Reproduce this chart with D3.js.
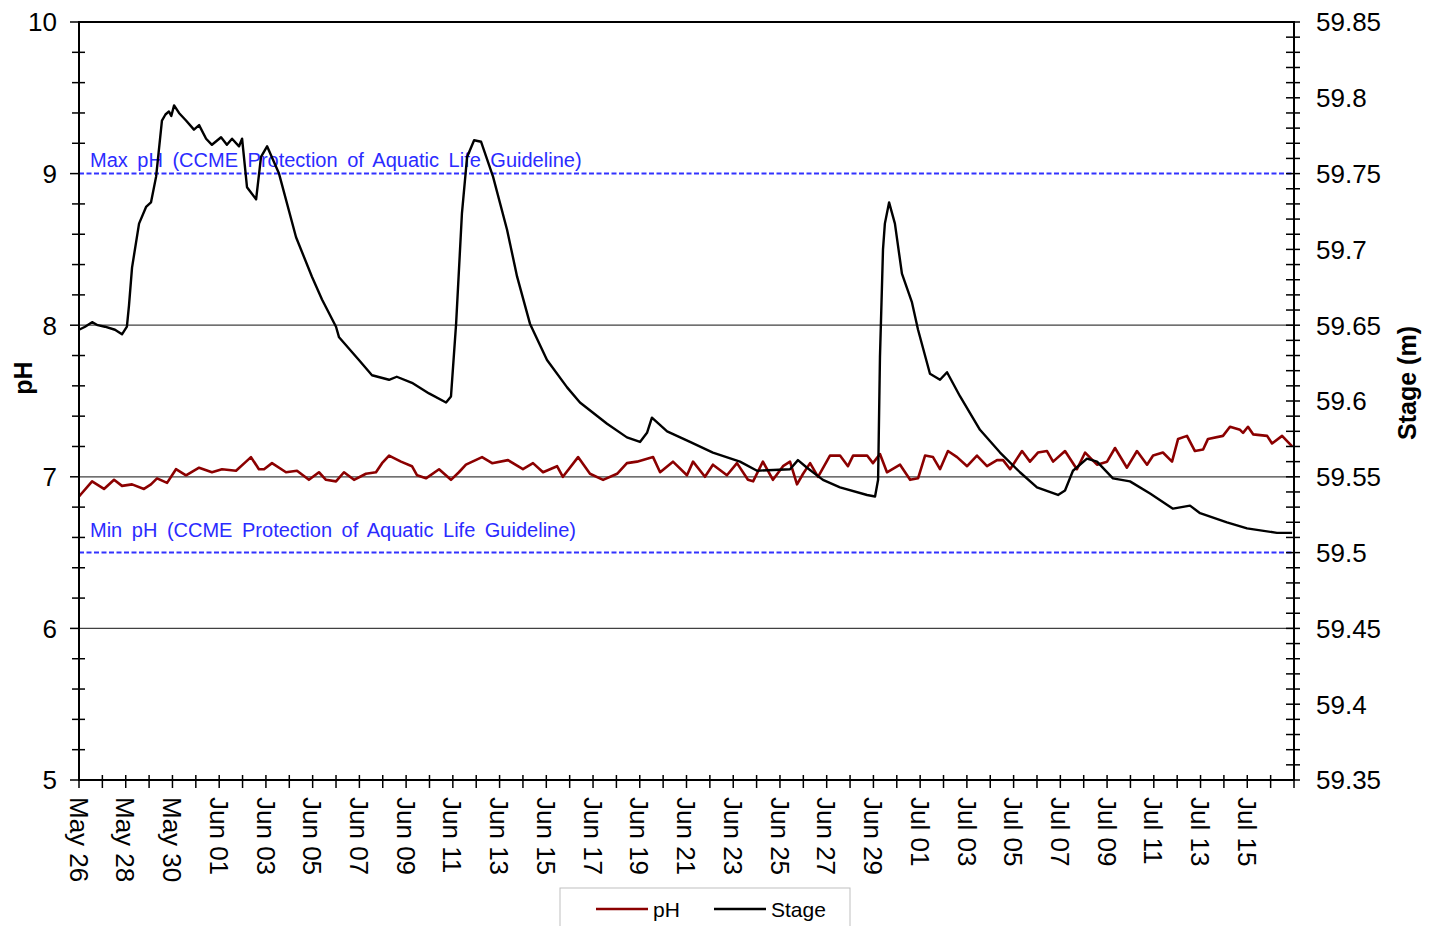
<!DOCTYPE html>
<html>
<head>
<meta charset="utf-8">
<script src="https://cdn.jsdelivr.net/npm/d3@7"></script>
<style>
  body { margin: 0; background: #fff; }
  svg { display: block; font-family: Arial, "Liberation Sans", sans-serif; }
</style>
</head>
<body>
<svg id="chart" width="1432" height="926"></svg>
<script>
// days since May 26 00:00 and readings
const START = Date.UTC(2015, 4, 26);

const stageDays = [0, 0.26, 0.56, 0.8, 1.11, 1.54, 1.84, 2.05, 2.14, 2.27, 2.57, 2.87, 3.08, 3.3, 3.55, 3.7,
  3.85, 3.95, 4.07, 4.28, 4.58, 4.92, 5.14, 5.44, 5.69, 6.08, 6.33, 6.55, 6.85, 6.98, 7.19, 7.58, 7.79,
  8.05, 8.56, 9.29, 9.97, 10.4, 11.0, 11.13, 11.98, 12.54, 13.27, 13.6, 14.25, 14.98, 15.71, 15.92,
  16.14, 16.39, 16.61, 16.91, 17.21, 17.72, 18.32, 18.75, 19.3, 20.03, 20.89, 21.44, 22.6, 23.45,
  24.01, 24.31, 24.52, 25.17, 26.15, 27.13, 28.29, 29.02, 30.43, 30.77, 31.16, 31.84, 32.57, 33.73,
  34.07, 34.2, 34.28, 34.41, 34.49, 34.67, 34.92, 35.22, 35.65, 35.91, 36.42, 36.85, 37.15, 37.71,
  38.56, 39.42, 40.27, 41.0, 41.9, 42.2, 42.54, 43.14, 43.57, 44.25, 44.98, 45.84, 46.82, 47.55,
  47.98, 49.13, 49.99, 51.27, 51.92];
const stageVals = [59.647, 59.649, 59.652, 59.650, 59.649, 59.647, 59.644, 59.649, 59.663, 59.688, 59.717,
  59.728, 59.731, 59.748, 59.785, 59.789, 59.791, 59.788, 59.795, 59.790, 59.785, 59.779, 59.782,
  59.773, 59.769, 59.774, 59.769, 59.773, 59.768, 59.773, 59.741, 59.733, 59.761, 59.768, 59.750,
  59.708, 59.682, 59.667, 59.649, 59.642, 59.627, 59.617, 59.614, 59.616, 59.612, 59.605, 59.599,
  59.603, 59.651, 59.724, 59.761, 59.772, 59.771, 59.748, 59.713, 59.682, 59.651, 59.627, 59.609,
  59.599, 59.585, 59.576, 59.573, 59.579, 59.589, 59.580, 59.573, 59.566, 59.560, 59.554, 59.555,
  59.561, 59.556, 59.548, 59.543, 59.538, 59.537, 59.548, 59.629, 59.700, 59.717, 59.731, 59.717,
  59.684, 59.665, 59.647, 59.618, 59.614, 59.619, 59.603, 59.581, 59.566, 59.553, 59.543, 59.538,
  59.541, 59.554, 59.562, 59.560, 59.549, 59.547, 59.539, 59.529, 59.531, 59.526, 59.520, 59.516,
  59.513, 59.513];

const phDays = [0, 0.56, 1.07, 1.5, 1.84, 2.27, 2.78, 3.08, 3.34, 3.77, 4.15, 4.58, 5.14, 5.69, 6.12, 6.72,
  7.15, 7.36, 7.7, 7.92, 8.26, 8.86, 9.33, 9.84, 10.27, 10.57, 11.0, 11.34, 11.77, 12.28, 12.71,
  12.97, 13.27, 13.78, 14.25, 14.47, 14.85, 15.41, 15.92, 16.26, 16.56, 17.25, 17.68, 18.36, 19.0,
  19.43, 19.86, 20.46, 20.71, 21.36, 21.87, 22.43, 23.03, 23.45, 23.88, 24.57, 24.87, 25.42, 26.02,
  26.28, 26.79, 27.13, 27.73, 28.16, 28.63, 28.85, 29.27, 29.7, 30.13, 30.43, 30.73, 30.99, 31.29,
  31.63, 32.14, 32.57, 32.91, 33.13, 33.73, 33.98, 34.28, 34.58, 35.14, 35.57, 35.91, 36.21, 36.55,
  36.85, 37.19, 37.58, 38.01, 38.43, 38.86, 39.29, 39.55, 39.85, 40.36, 40.7, 41.04, 41.43, 41.69,
  42.2, 42.71, 43.06, 43.57, 44.0, 44.34, 44.85, 45.28, 45.71, 45.97, 46.39, 46.78, 47.04, 47.42,
  47.76, 48.11, 48.32, 48.96, 49.26, 49.69, 49.82, 50.03, 50.25, 50.85, 51.06, 51.49, 51.92];
const phVals = [6.87, 6.97, 6.92, 6.98, 6.94, 6.95, 6.92, 6.95, 6.99, 6.96, 7.05, 7.01, 7.06, 7.03, 7.05,
  7.04, 7.10, 7.13, 7.05, 7.05, 7.09, 7.03, 7.04, 6.98, 7.03, 6.98, 6.97, 7.03, 6.98, 7.02, 7.03,
  7.09, 7.14, 7.10, 7.07, 7.01, 6.99, 7.05, 6.98, 7.03, 7.08, 7.13, 7.09, 7.11, 7.05, 7.09, 7.03,
  7.07, 7.00, 7.13, 7.02, 6.98, 7.02, 7.09, 7.10, 7.13, 7.03, 7.10, 7.01, 7.10, 7.00, 7.08, 7.01,
  7.09, 6.98, 6.97, 7.10, 6.98, 7.07, 7.10, 6.95, 7.02, 7.09, 7.00, 7.14, 7.14, 7.07, 7.14, 7.14,
  7.09, 7.15, 7.03, 7.08, 6.98, 6.99, 7.14, 7.13, 7.05, 7.17, 7.13, 7.07, 7.14, 7.07, 7.11, 7.11,
  7.05, 7.17, 7.10, 7.16, 7.17, 7.10, 7.17, 7.05, 7.16, 7.08, 7.10, 7.19, 7.06, 7.17, 7.08, 7.14,
  7.16, 7.10, 7.25, 7.27, 7.17, 7.18, 7.25, 7.27, 7.33, 7.31, 7.29, 7.33, 7.28, 7.27, 7.22, 7.27, 7.20];

const phTicks = [5, 6, 7, 8, 9, 10];
const stageTicks = [59.35, 59.4, 59.45, 59.5, 59.55, 59.6, 59.65, 59.7, 59.75, 59.8, 59.85];
const phGrid = [6, 7, 8];
const maxPH = 9, minPH = 6.5;
const maxLabel = "Max pH (CCME Protection of Aquatic Life Guideline)";
const minLabel = "Min pH (CCME Protection of Aquatic Life Guideline)";
const NDAYS = 52;

const svg = d3.select("#chart");
const L = 79, R = 1294, T = 22, B = 780;
const toDate = (d) => new Date(START + d * 864e5);

const x = d3.scaleUtc().domain([toDate(0), toDate(NDAYS)]).range([L, R]);
const yPH = d3.scaleLinear().domain([5, 10]).range([B, T]);
const yStage = d3.scaleLinear().domain([59.35, 59.85]).range([B, T]);

// gridlines
svg.append("g")
  .selectAll("line")
  .data(phGrid)
  .join("line")
  .attr("x1", L).attr("x2", R)
  .attr("y1", (d) => yPH(d)).attr("y2", (d) => yPH(d))
  .attr("stroke", "#404040").attr("stroke-width", 1.2);

// guideline lines + labels
[[maxPH, maxLabel, 7], [minPH, minLabel, 16]].forEach(([v, lbl, off]) => {
  svg.append("line")
    .attr("x1", L).attr("x2", R)
    .attr("y1", yPH(v)).attr("y2", yPH(v))
    .attr("stroke", "#3333ff").attr("stroke-width", 2)
    .attr("stroke-dasharray", "5,2.5");
  svg.append("text")
    .attr("x", 90).attr("y", yPH(v) - off)
    .attr("font-size", 20).attr("word-spacing", 4)
    .attr("fill", "#2b2bff")
    .text(lbl);
});

// series
const phLine = d3.line()
  .x((d, i) => x(toDate(phDays[i])))
  .y((d) => yPH(d));
svg.append("path")
  .datum(phVals)
  .attr("d", phLine)
  .attr("fill", "none").attr("stroke", "#8b0000")
  .attr("stroke-width", 2.6).attr("stroke-linejoin", "round");

const stageLine = d3.line()
  .x((d, i) => x(toDate(stageDays[i])))
  .y((d) => yStage(d));
svg.append("path")
  .datum(stageVals)
  .attr("d", stageLine)
  .attr("fill", "none").attr("stroke", "#000")
  .attr("stroke-width", 2.4).attr("stroke-linejoin", "round");

// frame
svg.append("rect")
  .attr("x", L).attr("y", T).attr("width", R - L).attr("height", B - T)
  .attr("fill", "none").attr("stroke", "#000").attr("stroke-width", 2);

// left axis
const phMinor = d3.range(5, 10.001, 0.2).map((v) => +v.toFixed(1));
svg.append("g").selectAll("line").data(phMinor).join("line")
  .attr("x1", (d) => (Number.isInteger(d) ? L - 9 : L - 7))
  .attr("x2", (d) => (Number.isInteger(d) ? L : L + 6))
  .attr("y1", (d) => yPH(d)).attr("y2", (d) => yPH(d))
  .attr("stroke", "#000").attr("stroke-width", 1.5);
svg.append("g").selectAll("text").data(phTicks).join("text")
  .attr("x", 57).attr("y", (d) => yPH(d)).attr("dy", "0.36em")
  .attr("text-anchor", "end").attr("font-size", 26).attr("fill", "#000")
  .text((d) => d);

// right axis
const stMinor = d3.range(0, 51).map((i) => 59.35 + i * 0.01);
svg.append("g").selectAll("line").data(stMinor).join("line")
  .attr("x1", R - 8).attr("x2", R + 6)
  .attr("y1", (d) => yStage(d)).attr("y2", (d) => yStage(d))
  .attr("stroke", "#000").attr("stroke-width", 1.5);
svg.append("g").selectAll("text").data(stageTicks).join("text")
  .attr("x", 1316).attr("y", (d) => yStage(d)).attr("dy", "0.36em")
  .attr("font-size", 26).attr("fill", "#000")
  .text((d) => String(+d.toFixed(2)));

// x axis
const days = d3.utcDay.range(toDate(0), toDate(NDAYS + 0.5));
svg.append("g").selectAll("line").data(days).join("line")
  .attr("x1", (d) => x(d)).attr("x2", (d) => x(d))
  .attr("y1", B - 5).attr("y2", B + 8)
  .attr("stroke", "#000").attr("stroke-width", 1.5);
const fmt = d3.utcFormat("%b %d");
svg.append("g").selectAll("text").data(days.filter((d, i) => i % 2 === 0 && i < NDAYS)).join("text")
  .attr("transform", (d) => `translate(${x(d)},797) rotate(90)`)
  .attr("dy", "0.36em")
  .attr("font-size", 26).attr("fill", "#000")
  .text((d) => fmt(d));

// axis titles
svg.append("text")
  .attr("transform", "translate(23,378) rotate(-90)")
  .attr("text-anchor", "middle").attr("dy", "0.36em")
  .attr("font-size", 25).attr("font-weight", "bold")
  .text("pH");
svg.append("text")
  .attr("transform", "translate(1407,383) rotate(-90)")
  .attr("text-anchor", "middle").attr("dy", "0.36em")
  .attr("font-size", 25).attr("font-weight", "bold")
  .text("Stage (m)");

// legend
const leg = svg.append("g");
leg.append("rect")
  .attr("x", 560).attr("y", 888).attr("width", 290).attr("height", 60)
  .attr("fill", "#fff").attr("stroke", "#bfbfbf").attr("stroke-width", 1);
[["pH", "#8b0000", 596], ["Stage", "#000", 714]].forEach(([name, col, lx]) => {
  leg.append("line")
    .attr("x1", lx).attr("x2", lx + 52).attr("y1", 909).attr("y2", 909)
    .attr("stroke", col).attr("stroke-width", 2.5);
  leg.append("text")
    .attr("x", lx + 57).attr("y", 909).attr("dy", "0.36em")
    .attr("font-size", 21).attr("fill", "#000")
    .text(name);
});
</script>
</body>
</html>
